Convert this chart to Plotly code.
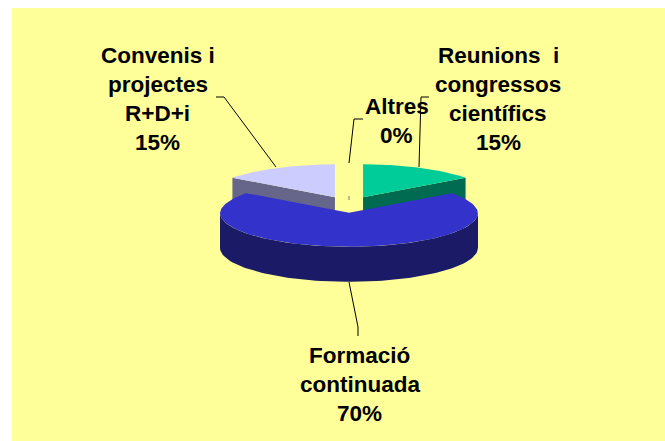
import numpy as np
import plotly.graph_objects as go

# ---- data (clockwise from 12 o'clock) ----
categories = ["Reunions\u00a0\u00a0i<br>congressos<br>científics", "Formació<br>continuada",
              "Convenis i<br>projectes<br>R+D+i", "Altres"]
values = [15, 70, 15, 0]
top_colors = ["#00CC99", "#3333CC", "#CCCCFF", "#FFFF99"]
side_colors = ["#006B50", "#1A1A66", "#66668A", "#FFFF99"]

# ---- layout of the pseudo-3D pie, in pixels ----
W, H = 665, 441
CX, CY = 349, 204.6   # centre before explosion
A, B = 129, 34        # ellipse radii
DEPTH = 35
EXPLODE = 0.24
PERSPECTIVE = 0.03    # far side of the pie is drawn a little smaller
LABEL_POS = [(498, 55), (359.5, 355), (157.5, 55), (396.5, 106)]
LINE_STEP = 29
FONT = dict(family="Liberation Sans", size=22.5, color="#000000")

fig = go.Figure()


def add_poly(x, y, color):
    fig.add_trace(go.Scatter(x=x, y=y, mode="lines", fill="toself", fillcolor=color,
                             line=dict(width=0, color=color), hoverinfo="skip", showlegend=False))


shares = np.array(values) / sum(values) * 360.0
starts = 90 - np.concatenate(([0], np.cumsum(shares)[:-1]))
wedges = []
for s, share in zip(starts, shares):
    end = s - share
    mid = np.radians((s + end) / 2)
    cx = CX + A * EXPLODE * np.cos(mid)
    cy = CY - B * EXPLODE * np.sin(mid)
    wedges.append((s, end, cx, cy))


def rim(cx, cy, angle_rad, dy=0.0):
    scale = 1 - PERSPECTIVE * np.maximum(np.sin(angle_rad), 0)
    return cx + A * scale * np.cos(angle_rad), cy - B * scale * np.sin(angle_rad) + dy


def arc(cx, cy, a0, a1, n=80, dy=0.0):
    return rim(cx, cy, np.radians(np.linspace(a0, a1, n)), dy)


def draw_wedge(i):
    s, end, cx, cy = wedges[i]
    if shares[i] == 0:
        return
    if shares[i] < 180:
        # radial cut faces on the near side
        for ang in (s, end):
            rad = np.radians(ang)
            if 0 < np.sin(rad) < 1 - 1e-9:
                px, py = rim(cx, cy, rad)
                add_poly([cx, px, px, cx, cx], [cy, py, py + DEPTH, cy + DEPTH, cy], side_colors[i])
    else:
        # outer rim on the lower half
        ax, ay = arc(cx, cy, -180, 0)
        bx, by = arc(cx, cy, 0, -180, dy=DEPTH)
        add_poly(np.r_[ax, bx, ax[0]], np.r_[ay, by, ay[0]], side_colors[i])
    ax, ay = arc(cx, cy, s, end, n=160)
    add_poly(np.r_[cx, ax, cx], np.r_[cy, ay, cy], top_colors[i])


# small slices sit behind the large front slice
for i in np.argsort(shares, kind="stable"):
    draw_wedge(int(i))

# labels, one annotation per line so the spacing follows the original
annotations = []
for cat, val, (lx, ly) in zip(categories, values, LABEL_POS):
    lines = cat.split("<br>") + [f"{val}%"]
    for k, line in enumerate(lines):
        annotations.append(dict(x=lx, y=ly + k * LINE_STEP, text=f"<b>{line}</b>", showarrow=False,
                                xref="x", yref="y", xanchor="center", yanchor="middle", font=FONT))

# leader lines and background
leaders = [
    "M216,97 L224,97 L276,167",
    "M429,97 L421,97 L419,167",
    "M363,119 L354,119 L349,163",
    "M349,282 L358,327 L358,336",
]
shapes = [dict(type="rect", xref="x", yref="y", x0=12, y0=8, x1=W, y1=H,
               fillcolor="#FFFF99", line=dict(width=0), layer="below")]
shapes += [dict(type="path", xref="x", yref="y", path=p, line=dict(color="#000000", width=1), layer="above")
           for p in leaders]
shapes.append(dict(type="path", xref="x", yref="y", path="M349,196 L349,200",
                   line=dict(color="#777777", width=1), layer="above"))

fig.update_layout(
    width=W, height=H, margin=dict(l=0, r=0, t=0, b=0), showlegend=False,
    paper_bgcolor="#FFFFFF", plot_bgcolor="rgba(0,0,0,0)",
    xaxis=dict(range=[0, W], visible=False, fixedrange=True),
    yaxis=dict(range=[H, 0], visible=False, fixedrange=True),
    annotations=annotations, shapes=shapes,
)
fig.write_html("out.html", config=dict(displayModeBar=False),
               post_script="document.body.style.margin='0';document.body.style.overflow='hidden';")
